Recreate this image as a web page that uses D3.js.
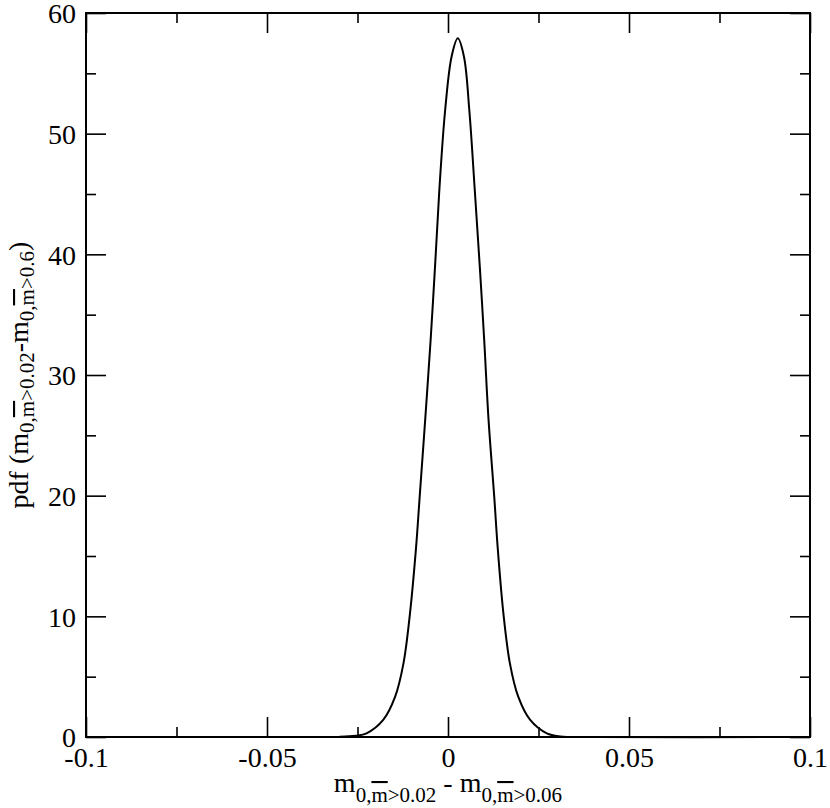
<!DOCTYPE html>
<html>
<head>
<meta charset="utf-8">
<script src="https://cdn.jsdelivr.net/npm/d3@7/dist/d3.min.js"></script>
<style>
html,body{margin:0;padding:0;background:#fff;}
svg{display:block;}
text{font-family:"Liberation Serif","Times New Roman",serif;fill:#000;}
</style>
</head>
<body>
<svg id="chart" width="830" height="808"></svg>
<script>
// Data
const xValues = [-0.1, -0.04, -0.03, -0.0255, -0.0225, -0.0179, -0.0146, -0.0123, -0.0105, -0.0088, -0.00785, -0.0063, -0.0048, -0.0036, -0.0024, -0.0008, 0.001, 0.0027, 0.0044, 0.0059, 0.0074, 0.0088, 0.0100, 0.0112, 0.0128, 0.0137, 0.0153, 0.0171, 0.0194, 0.0227, 0.0273, 0.031, 0.04, 0.1];
const yValues = [0, 0, 0.01, 0.1, 0.3, 1.41, 3.34, 6.1, 10.25, 15.8, 19.8, 26.3, 32.9, 38.9, 45.3, 51.9, 56.4, 57.9, 56.4, 51.9, 45.3, 38.9, 32.9, 26.3, 19.8, 15.8, 10.25, 6.1, 3.34, 1.41, 0.3, 0.05, 0, 0];
const xMajorTicks = [-0.1, -0.05, 0, 0.05, 0.1];
const xTickLabels = ["-0.1", "-0.05", "0", "0.05", "0.1"];
const xMinorTicks = [-0.075, -0.025, 0.025, 0.075];
const yMajorTicks = [0, 10, 20, 30, 40, 50, 60];
const yTickLabels = ["0", "10", "20", "30", "40", "50", "60"];
const yMinorTicks = [5, 15, 25, 35, 45, 55];

const svg = d3.select("#chart");
const L = 86, R = 810, T = 13, B = 737;
const x = d3.scaleLinear().domain([-0.1, 0.1]).range([L, R]);
const y = d3.scaleLinear().domain([0, 60]).range([B, T]);

const majorLen = 20, minorLen = 10;
const tickStroke = 1.6;
const tickFont = 28;

function addTicks(axisGen, transform) {
  const g = svg.append("g").attr("transform", transform).call(axisGen);
  g.select(".domain").remove();
  g.selectAll(".tick line").attr("stroke", "#000").attr("stroke-width", tickStroke);
  return g;
}

// bottom major ticks with labels
const gb = addTicks(d3.axisTop(x).tickValues(xMajorTicks).tickSize(majorLen)
  .tickFormat((d, i) => xTickLabels[i]), `translate(0,${B})`);
gb.selectAll(".tick text").attr("y", 30).attr("dy", 0).attr("font-size", tickFont)
  .attr("font-family", "Liberation Serif").attr("fill", "#000");
addTicks(d3.axisTop(x).tickValues(xMinorTicks).tickSize(minorLen).tickFormat(""), `translate(0,${B})`);
// top
addTicks(d3.axisBottom(x).tickValues(xMajorTicks).tickSize(majorLen).tickFormat(""), `translate(0,${T})`);
addTicks(d3.axisBottom(x).tickValues(xMinorTicks).tickSize(minorLen).tickFormat(""), `translate(0,${T})`);
// left
const gl = addTicks(d3.axisRight(y).tickValues(yMajorTicks).tickSize(majorLen)
  .tickFormat((d, i) => yTickLabels[i]), `translate(${L},0)`);
gl.selectAll(".tick text").attr("x", -10).attr("dy", "0.35em").attr("text-anchor", "end")
  .attr("font-size", tickFont).attr("font-family", "Liberation Serif").attr("fill", "#000");
addTicks(d3.axisRight(y).tickValues(yMinorTicks).tickSize(minorLen).tickFormat(""), `translate(${L},0)`);
// right
addTicks(d3.axisLeft(y).tickValues(yMajorTicks).tickSize(majorLen).tickFormat(""), `translate(${R},0)`);
addTicks(d3.axisLeft(y).tickValues(yMinorTicks).tickSize(minorLen).tickFormat(""), `translate(${R},0)`);

// frame
svg.append("rect").attr("x", L).attr("y", T).attr("width", R - L).attr("height", B - T)
  .attr("fill", "none").attr("stroke", "#000").attr("stroke-width", 2);

// curve
const pts = xValues.map((v, i) => [v, yValues[i]]);
const line = d3.line().x(d => x(d[0])).y(d => y(Math.max(0, d[1]))).curve(d3.curveCatmullRom.alpha(0.5));
svg.append("path").datum(pts).attr("d", line).attr("fill", "none")
  .attr("stroke", "#000").attr("stroke-width", 2);

// label builder with subscripts and overlined m
function buildLabel(textSel, parts) {
  parts.forEach(p => {
    const t = textSel.append("tspan").text(p.t);
    if (p.size) t.attr("font-size", p.size);
    if (p.dy) t.attr("dy", p.dy);
    if (p.over) t.style("text-decoration", "overline");
  });
}
const base = 28, sub = 21;
const xl = svg.append("text").attr("x", (L + R) / 2).attr("y", 792)
  .attr("text-anchor", "middle").attr("font-size", base);
buildLabel(xl, [
  {t: "m"},
  {t: "0,", size: sub, dy: 10},
  {t: "m", size: sub, over: true},
  {t: ">0.02", size: sub},
  {t: " - m", size: base, dy: -10},
  {t: "0,", size: sub, dy: 10},
  {t: "m", size: sub, over: true},
  {t: ">0.06", size: sub}
]);

const yl = svg.append("text").attr("transform", `translate(28,${(T + B) / 2}) rotate(-90)`)
  .attr("text-anchor", "middle").attr("font-size", base);
buildLabel(yl, [
  {t: "pdf (m"},
  {t: "0,", size: sub, dy: 6},
  {t: "m", size: sub, over: true},
  {t: ">0.02", size: sub},
  {t: "-m", size: base, dy: -6},
  {t: "0,", size: sub, dy: 6},
  {t: "m", size: sub, over: true},
  {t: ">0.6", size: sub},
  {t: ")", size: base, dy: -6}
]);
</script>
</body>
</html>
